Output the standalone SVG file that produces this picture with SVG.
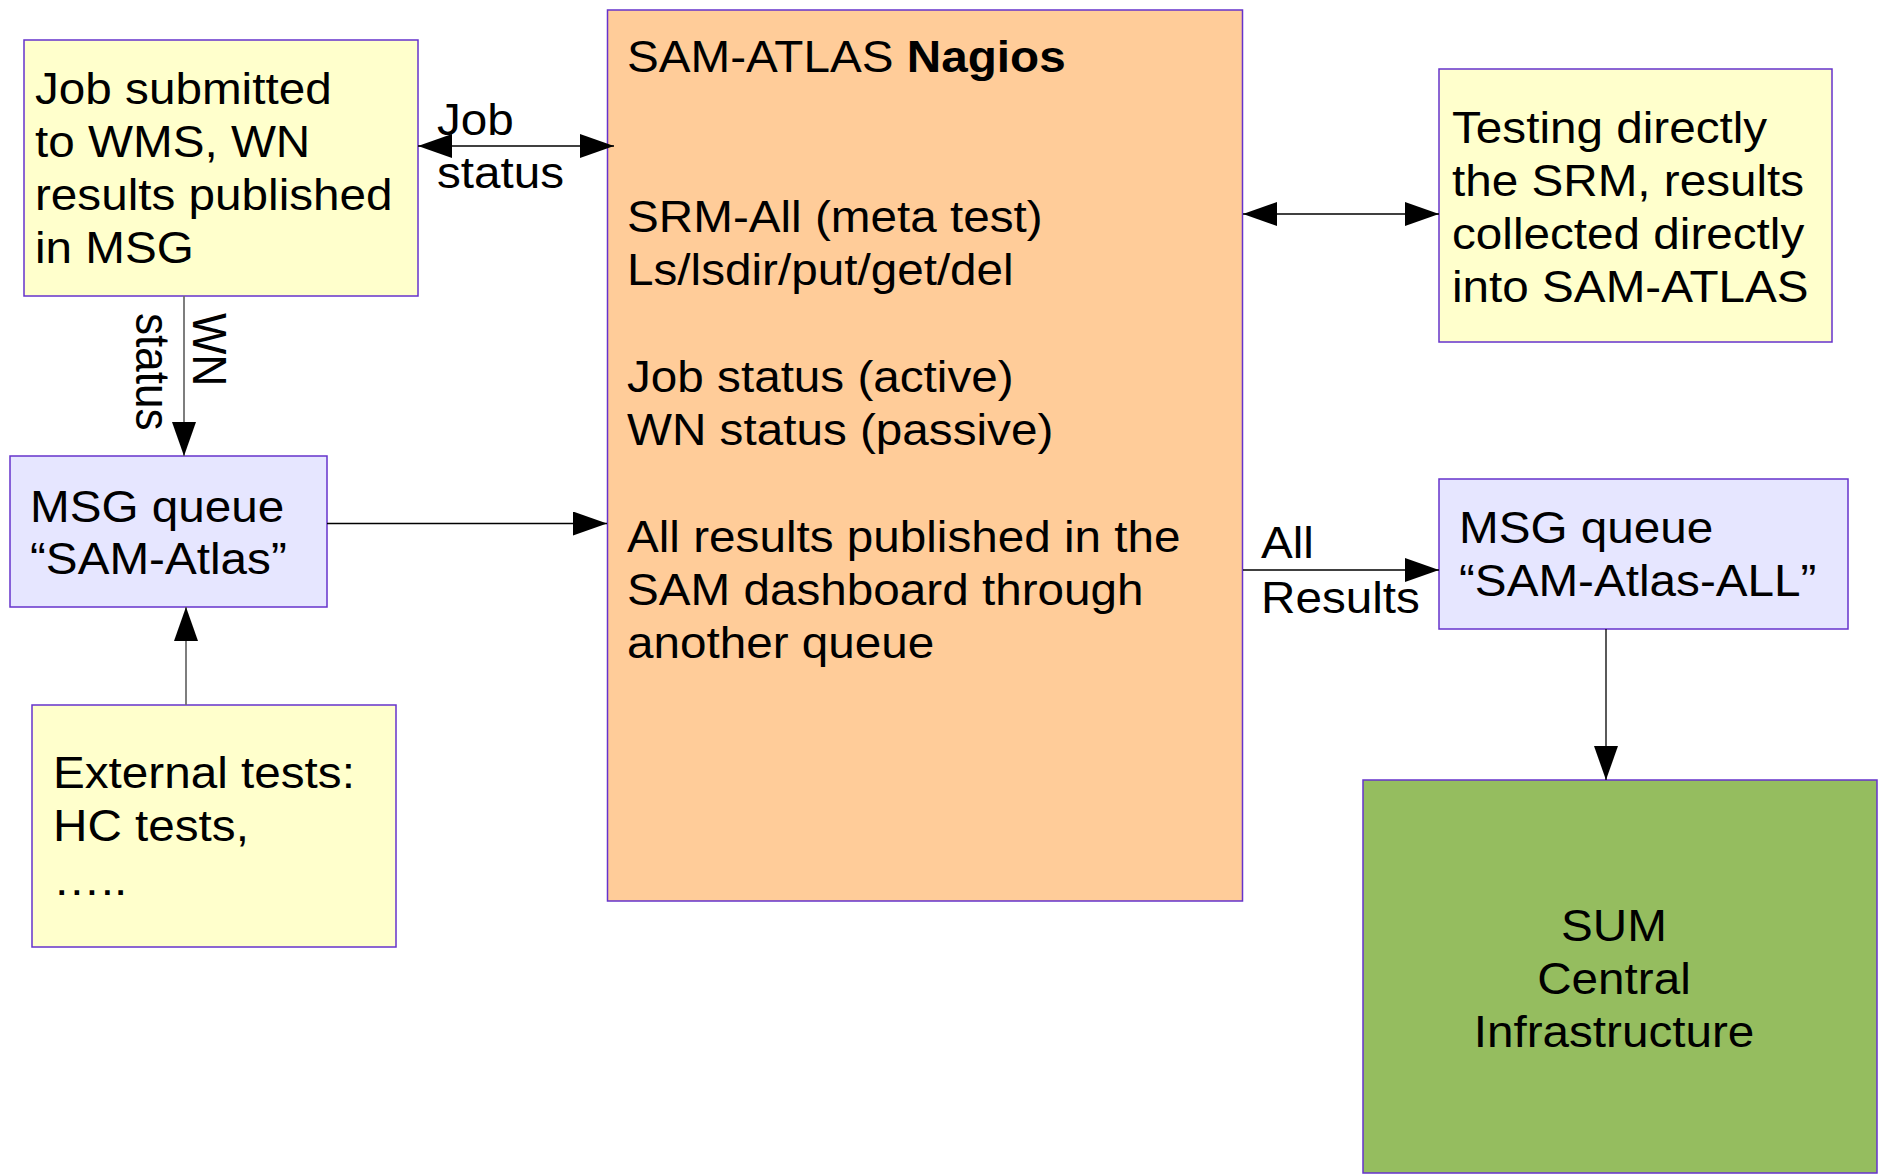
<svg xmlns="http://www.w3.org/2000/svg" width="1886" height="1175" viewBox="0 0 1886 1175">
<style>
.box{stroke:#6633cc;stroke-width:1.5}
.yel{fill:#ffffcc}
.blu{fill:#e6e6ff}
.ora{fill:#ffcc99}
.grn{fill:#95bd5f}
text{font-family:"Liberation Sans",Arial,sans-serif;font-size:44px;fill:#000}
.c{stroke:#000;stroke-width:1.3;fill:none}
.g{stroke:#707070;stroke-width:1.8;fill:none}
</style>
<defs>
<marker id="ah" markerUnits="userSpaceOnUse" markerWidth="34" markerHeight="24" viewBox="0 0 34 24" refX="34" refY="12" orient="auto-start-reverse">
<path d="M0,0 L34,12 L0,24 z" fill="#000"/>
</marker>
</defs>
<rect width="1886" height="1175" fill="#fff"/>

<g id="job-submitted">
<rect class="box yel" x="24" y="40" width="394" height="256"/>
<g transform="translate(35,104) scale(1.083 1)"><text><tspan x="0" y="0">Job submitted</tspan><tspan x="0" y="53">to WMS, WN</tspan><tspan x="0" y="106">results published</tspan><tspan x="0" y="159">in MSG</tspan></text></g>
</g>

<g id="msg-queue">
<rect class="box blu" x="10" y="456" width="317" height="151"/>
<g transform="translate(30,522) scale(1.083 1)"><text><tspan x="0" y="0">MSG queue</tspan><tspan x="0" y="52">“SAM-Atlas”</tspan></text></g>
</g>

<g id="external-tests">
<rect class="box yel" x="32" y="705" width="364" height="242"/>
<g transform="translate(53,788) scale(1.083 1)"><text><tspan x="0" y="0">External tests:</tspan><tspan x="0" y="53">HC tests,</tspan><tspan x="0" y="107">…..</tspan></text></g>
</g>

<g id="nagios">
<rect class="box ora" x="607.5" y="10" width="635" height="891"/>
<g transform="translate(627,72) scale(1.083 1)"><text>
<tspan x="0" y="0">SAM-ATLAS <tspan font-weight="bold">Nagios</tspan></tspan>
<tspan x="0" y="160">SRM-All (meta test)</tspan>
<tspan x="0" y="213">Ls/lsdir/put/get/del</tspan>
<tspan x="0" y="320">Job status (active)</tspan>
<tspan x="0" y="373">WN status (passive)</tspan>
<tspan x="0" y="480">All results published in the</tspan>
<tspan x="0" y="533">SAM dashboard through</tspan>
<tspan x="0" y="586">another queue</tspan>
</text></g>
</g>

<g id="testing-srm">
<rect class="box yel" x="1439" y="69" width="393" height="273"/>
<g transform="translate(1452,143) scale(1.083 1)"><text><tspan x="0" y="0">Testing directly</tspan><tspan x="0" y="53">the SRM, results</tspan><tspan x="0" y="106">collected directly</tspan><tspan x="0" y="159">into SAM-ATLAS</tspan></text></g>
</g>

<g id="msg-queue-all">
<rect class="box blu" x="1439" y="479" width="409" height="150"/>
<g transform="translate(1459,543) scale(1.083 1)"><text><tspan x="0" y="0">MSG queue</tspan><tspan x="0" y="53">“SAM-Atlas-ALL”</tspan></text></g>
</g>

<g id="sum-central">
<rect class="box grn" x="1363" y="780" width="514" height="393"/>
<g transform="translate(1614,941) scale(1.083 1)"><text text-anchor="middle"><tspan x="0" y="0">SUM</tspan><tspan x="0" y="53">Central</tspan><tspan x="0" y="106">Infrastructure</tspan></text></g>
</g>

<g id="connectors">
<line class="c" x1="418" y1="146" x2="614" y2="146" marker-start="url(#ah)" marker-end="url(#ah)"/>
<line class="g" x1="184" y1="296" x2="184" y2="456" marker-end="url(#ah)"/>
<line class="c" x1="327" y1="523.5" x2="607" y2="523.5" marker-end="url(#ah)"/>
<line class="g" x1="186" y1="705" x2="186" y2="607" marker-end="url(#ah)"/>
<line class="c" x1="1243" y1="214" x2="1439" y2="214" marker-start="url(#ah)" marker-end="url(#ah)"/>
<line class="c" x1="1243" y1="570" x2="1439" y2="570" marker-end="url(#ah)"/>
<line class="c" x1="1606" y1="629" x2="1606" y2="780" marker-end="url(#ah)"/>
<g transform="translate(437,135) scale(1.083 1)"><text><tspan x="0" y="0">Job</tspan><tspan x="0" y="53">status</tspan></text></g>
<g transform="translate(193,313) scale(1.083 1) rotate(90)"><text><tspan x="0" y="0">WN</tspan><tspan x="0" y="53">status</tspan></text></g>
<g transform="translate(1261,558) scale(1.083 1)"><text><tspan x="0" y="0">All</tspan><tspan x="0" y="55">Results</tspan></text></g>
</g>
</svg>
